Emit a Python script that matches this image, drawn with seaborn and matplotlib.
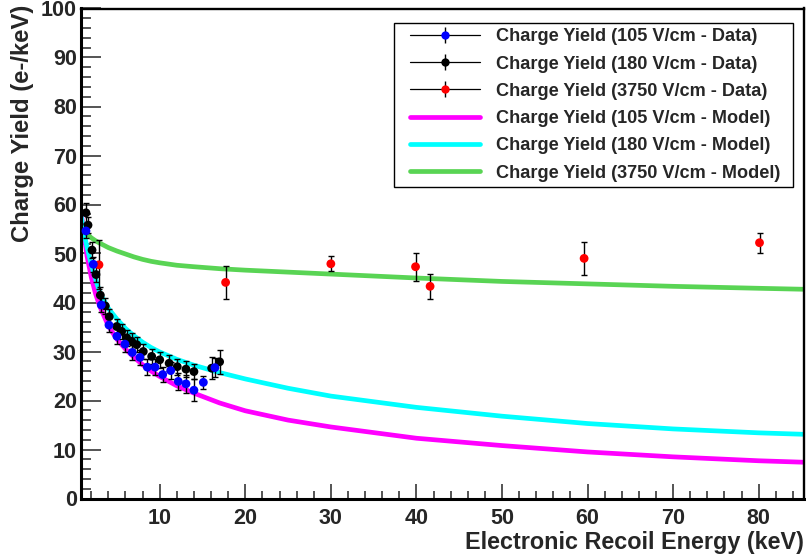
import numpy as np
import pandas as pd
import matplotlib
matplotlib.use("Agg")
import matplotlib.pyplot as plt
import seaborn as sns
from matplotlib.lines import Line2D
from matplotlib.legend_handler import HandlerTuple
from matplotlib.ticker import MultipleLocator

# ---------------- data ----------------
# 105 V/cm data (blue)
e_105 = [1.38, 2.24, 3.17, 4.07, 5.0, 5.94, 6.79, 7.69, 8.55, 9.45, 10.35, 11.28,
         12.17, 13.07, 14.0, 15.1, 16.45]
cy_105 = [54.6, 47.8, 39.5, 35.4, 33.1, 31.5, 29.8, 28.8, 26.8, 26.8, 25.3, 26.1,
          23.9, 23.4, 22.1, 23.7, 26.7]
err_105 = [1.5, 1.5, 1.5, 1.5, 1.5, 1.5, 1.6, 1.6, 1.6, 1.6, 1.6, 1.7,
           1.7, 1.8, 2.2, 1.3, 2.0]

# 180 V/cm data (black)
e_180 = [1.38, 1.62, 2.09, 2.55, 3.06, 3.64, 4.1, 4.97, 5.55, 6.14, 6.72, 7.31,
         8.08, 9.06, 10.0, 11.1, 12.05, 13.07, 14.0, 16.07, 17.0]
cy_180 = [58.3, 55.8, 50.7, 45.7, 41.5, 39.3, 37.1, 35.1, 34.1, 32.8, 32.1, 31.4,
          30.0, 29.0, 28.3, 27.6, 26.9, 26.4, 25.9, 26.6, 27.9]
err_180 = [2.0, 1.6, 1.6, 1.6, 1.6, 1.6, 1.6, 1.6, 1.6, 1.6, 1.6, 1.6,
           1.6, 1.6, 1.6, 1.6, 1.6, 1.6, 1.6, 2.2, 2.4]

# 3750 V/cm data (red)
e_3750 = [2.9, 17.7, 30.0, 39.9, 41.6, 59.6, 80.1]
cy_3750 = [47.7, 44.1, 47.9, 47.3, 43.3, 49.0, 52.2]
err_3750 = [5.0, 3.4, 1.5, 2.9, 2.6, 3.4, 2.0]

# model curves (values read at these energies)
model_e = [0.8, 1.0, 1.25, 1.5, 2, 2.5, 3, 4, 5, 6, 7, 8, 9, 10, 12, 14, 17, 20, 25,
           30, 40, 50, 60, 70, 80, 85.3]
model_105 = [58.7, 56.0, 52.8, 49.5, 45.2, 41.8, 39.2, 35.2, 32.5, 30.5, 28.8, 27.3,
             26.0, 24.9, 23.0, 21.5, 19.5, 17.9, 16.0, 14.6, 12.3, 10.8, 9.5, 8.5,
             7.7, 7.4]
model_180 = [57.8, 55.8, 53.4, 51.3, 47.8, 44.8, 42.0, 38.8, 36.6, 34.7, 33.2, 31.9,
             30.8, 29.9, 28.4, 27.2, 25.7, 24.4, 22.5, 20.9, 18.6, 16.8, 15.3, 14.2,
             13.4, 13.1]
model_3750 = [55.0, 54.7, 54.3, 54.0, 53.2, 52.6, 52.1, 51.2, 50.5, 49.9, 49.3, 48.8,
              48.4, 48.1, 47.6, 47.3, 46.9, 46.6, 46.2, 45.8, 45.0, 44.3, 43.8, 43.3,
              42.9, 42.7]

labels_data = ["Charge Yield (105 V/cm - Data)",
               "Charge Yield (180 V/cm - Data)",
               "Charge Yield (3750 V/cm - Data)"]
labels_model = ["Charge Yield (105 V/cm - Model)",
                "Charge Yield (180 V/cm - Model)",
                "Charge Yield (3750 V/cm - Model)"]

x_label = "Electronic Recoil Energy (keV)"
y_label = "Charge Yield (e-/keV)"

# ---------------- style ----------------
sns.set_theme(style="ticks")
plt.rcParams["font.family"] = ["Liberation Sans", "DejaVu Sans"]
plt.rcParams["font.weight"] = "bold"

C_BLUE = "#0000ff"
C_BLACK = "#000000"
C_RED = "#ff0000"
C_MAG = "#ff00ff"
C_CYAN = "#00ffff"
C_GREEN = "#59d454"

fig = plt.figure(figsize=(8.06, 5.59), dpi=100)
ax = fig.add_axes([81 / 806, (559 - 498.5) / 559, 723 / 806, 490 / 559])

# model curves
df_model = pd.DataFrame({
    "E": model_e * 3,
    "Y": model_105 + model_180 + model_3750,
    "model": [labels_model[0]] * len(model_e) + [labels_model[1]] * len(model_e)
             + [labels_model[2]] * len(model_e),
})
sns.lineplot(data=df_model, x="E", y="Y", hue="model",
             palette={labels_model[0]: C_MAG, labels_model[1]: C_CYAN,
                      labels_model[2]: C_GREEN},
             estimator=None, sort=False, linewidth=3.4, legend=False, ax=ax, zorder=2)

# data points
for E, Y, err, col in [(e_3750, cy_3750, err_3750, C_RED),
                       (e_180, cy_180, err_180, C_BLACK),
                       (e_105, cy_105, err_105, C_BLUE)]:
    ax.errorbar(E, Y, yerr=err, fmt="none", ecolor="black", elinewidth=1.0,
                capsize=2.0, capthick=1.0, zorder=3)
    sns.scatterplot(x=E, y=Y, color=col, s=40, edgecolor="none", linewidth=0,
                    ax=ax, zorder=4, legend=False)

ax.set_xlim(0.8, 85.3)
ax.set_ylim(0, 100)

# axes / ticks ROOT style
ax.xaxis.set_major_locator(MultipleLocator(10))
ax.xaxis.set_minor_locator(MultipleLocator(2))
ax.yaxis.set_major_locator(MultipleLocator(10))
ax.yaxis.set_minor_locator(MultipleLocator(2))
ax.tick_params(axis="x", which="major", direction="in", length=10.8, width=1.1,
               labelsize=15.5, pad=7, top=False)
ax.tick_params(axis="x", which="minor", direction="in", length=5.8, width=1.1, top=False)
ax.tick_params(axis="y", which="major", direction="in", length=14.4, width=1.1,
               labelsize=15.5, pad=3, right=False)
ax.tick_params(axis="y", which="minor", direction="in", length=7.2, width=1.1, right=False)
for lab in ax.get_xticklabels() + ax.get_yticklabels():
    lab.set_fontweight("bold")
ax.xaxis.set_major_formatter(matplotlib.ticker.FuncFormatter(
    lambda v, p: "" if v < 5 else f"{int(round(v))}"))

for side in ["left", "bottom"]:
    ax.spines[side].set_linewidth(2.2)
    ax.spines[side].set_color("black")
for side in ["top", "right"]:
    ax.spines[side].set_linewidth(1.7)
    ax.spines[side].set_color("black")
    ax.spines[side].set_visible(True)

ax.set_xlabel(x_label, fontsize=16.8, fontweight="bold", loc="right")
ax.xaxis.label.set_va("center")
ax.xaxis.set_label_coords(1.0, (498.5 - 543) / 490)
ax.set_ylabel(y_label, fontsize=17.2, fontweight="bold", loc="top")
ax.yaxis.label.set_va("center")
ax.yaxis.set_label_coords((22.5 - 81) / 723, (498.5 - 5) / 490)

# legend
class ShiftTuple(HandlerTuple):
    def __init__(self, shift=0.0, **kw):
        super().__init__(ndivide=1, **kw)
        self.shift = shift

    def create_artists(self, legend, orig_handle, xdescent, ydescent, width,
                       height, fontsize, trans):
        s = self.shift
        return super().create_artists(legend, orig_handle, xdescent - s, ydescent,
                                      width - s, height, fontsize, trans)

handles = []
for col in [C_BLUE, C_BLACK, C_RED]:
    h_line = Line2D([], [], color="black", linewidth=0.9)
    h_bar = Line2D([], [], color="black", linestyle="none", marker="|",
                   markersize=11.5, markeredgewidth=1.0)
    h_mark = Line2D([], [], color=col, linestyle="none", marker="o",
                    markersize=6.0, markeredgewidth=0)
    handles.append((h_line, h_bar, h_mark))
for col in [C_MAG, C_CYAN, C_GREEN]:
    handles.append((Line2D([], [], color=col, linewidth=3.4),))

leg = ax.legend(handles, labels_data + labels_model,
                handler_map={tuple: ShiftTuple(shift=8.0)},
                loc="upper left",
                bbox_to_anchor=(394 / 806, 1 - 190 / 559, 399 / 806, 167 / 559),
                mode="expand",
                bbox_transform=fig.transFigure, borderaxespad=0,
                prop={"size": 13.1, "weight": "bold"},
                handlelength=4.45, handletextpad=0.85, borderpad=0.29,
                labelspacing=0.565, frameon=True, fancybox=False, shadow=False)
leg.get_frame().set_edgecolor("black")
leg.get_frame().set_linewidth(1.0)
leg.get_frame().set_facecolor("white")
leg.get_frame().set_alpha(1.0)

fig.savefig("out.png", dpi=100)
